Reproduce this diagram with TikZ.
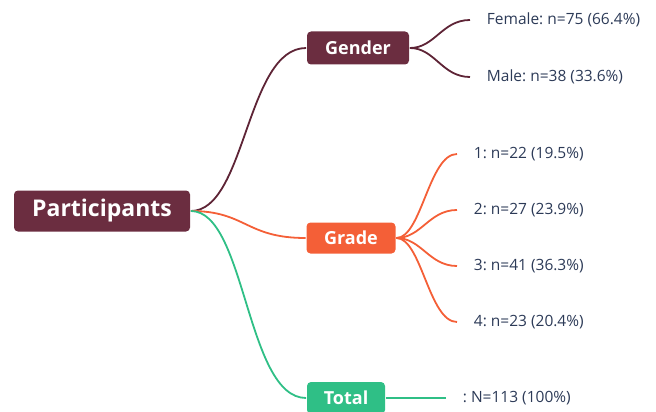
\documentclass[tikz,border=0pt]{standalone}
\usepackage{fontspec}
\setmainfont{Open Sans}
\usepackage{xcolor}
\usepackage{tikz}
\frenchspacing
\definecolor{maroon}{HTML}{6B2D40}
\definecolor{maroonline}{HTML}{5E2436}
\definecolor{orange}{HTML}{F45F37}
\definecolor{green}{HTML}{2FBF86}
\definecolor{navy}{HTML}{2C3A57}
\tikzset{
    tnode/.style = {align=center, inner sep=0pt, text centered},
    box/.style = {tnode, rectangle, rounded corners=4pt, text=white, font=\bfseries\fontsize{18}{20}\selectfont},
    maroon_box/.style = {box, fill=maroon},
    orange_box/.style = {box, fill=orange},
    green_box/.style = {box, fill=green},
    leaf/.style = {inner xsep=16pt, inner ysep=0pt, anchor=west, text=navy, font=\fontsize{15.5}{17}\selectfont}
}

\begin{document}
\begin{tikzpicture}
            [x=1pt, y=-1pt, line width=1.8pt,
            maroon_edge/.style={draw=maroonline},
            orange_edge/.style={draw=orange},
            green_edge/.style={draw=green}]

            \useasboundingbox (0,0) rectangle (656,412);

            % main boxes
            \node [maroon_box, minimum width=176pt, minimum height=41pt, font=\bfseries\fontsize{23}{26}\selectfont] (part) at (102,211) {Participants};
            \node [maroon_box, minimum width=102pt, minimum height=33pt] (gender) at (358,48) {Gender};
            \node [orange_box, minimum width=89pt, minimum height=31pt] (grade) at (351,238) {Grade};
            \node [green_box, minimum width=78pt, minimum height=32pt] (total) at (346,398) {Total};

            % leaves
            \node [leaf] (female) at (470,20) {Female: n=75 (66.4\%)};
            \node [leaf] (male) at (470,77) {Male: n=38 (33.6\%)};
            \node [leaf] (g1) at (457,154) {1: n=22 (19.5\%)};
            \node [leaf] (g2) at (457,210) {2: n=27 (23.9\%)};
            \node [leaf] (g3) at (457,266) {3: n=41 (36.3\%)};
            \node [leaf] (g4) at (457,322) {4: n=23 (20.4\%)};
            \node [leaf] (all) at (446,398) {: N=113 (100\%)};

            % branches
            \draw [maroon_edge] (part.east) .. controls +(55,0) and +(-60,0) .. (gender.west);
            \draw [orange_edge] (part.east) .. controls +(55,0) and +(-60,0) .. (grade.west);
            \draw [green_edge] (part.east) .. controls +(55,0) and +(-60,0) .. (total.west);

            \foreach \leafname in {female, male}
                \draw [maroon_edge] (gender.east) .. controls +(25,0) and +(-28,0) .. (\leafname.west);
            \foreach \leafname in {g1, g2, g3, g4}
                \draw [orange_edge] (grade.east) .. controls +(25,0) and +(-28,0) .. (\leafname.west);
            \draw [green_edge] (total.east) -- (all.west);
        \end{tikzpicture}
\end{document}
